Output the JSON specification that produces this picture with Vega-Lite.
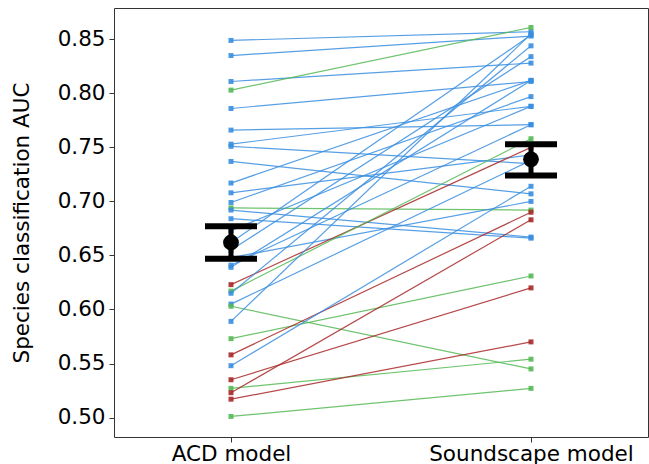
{
  "$schema": "https://vega.github.io/schema/vega-lite/v6.json",
  "width": 534,
  "height": 429,
  "autosize": {"type": "none"},
  "padding": {"left": 114, "top": 8, "right": 1, "bottom": 27},
  "background": "white",
  "config": {
    "view": {"stroke": "#333333", "strokeWidth": 1},
    "axis": {"grid": false, "labelFont": "DejaVu Sans", "titleFont": "DejaVu Sans", "labelFontSize": 21.5, "titleFontSize": 21.5, "labelColor": "#000000", "titleColor": "#000000", "tickColor": "#333333", "domainColor": "#333333", "titleFontWeight": "normal", "labelLimit": 400}
  },
  "datasets": {
    "pairs": [
      {"id": 1, "ACD model": 0.849, "Soundscape model": 0.857, "g": "b"},
      {"id": 2, "ACD model": 0.835, "Soundscape model": 0.853, "g": "b"},
      {"id": 3, "ACD model": 0.811, "Soundscape model": 0.828, "g": "b"},
      {"id": 4, "ACD model": 0.803, "Soundscape model": 0.861, "g": "g"},
      {"id": 5, "ACD model": 0.786, "Soundscape model": 0.811, "g": "b"},
      {"id": 6, "ACD model": 0.766, "Soundscape model": 0.771, "g": "b"},
      {"id": 7, "ACD model": 0.753, "Soundscape model": 0.788, "g": "b"},
      {"id": 8, "ACD model": 0.751, "Soundscape model": 0.735, "g": "b"},
      {"id": 9, "ACD model": 0.737, "Soundscape model": 0.707, "g": "b"},
      {"id": 10, "ACD model": 0.717, "Soundscape model": 0.812, "g": "b"},
      {"id": 11, "ACD model": 0.708, "Soundscape model": 0.743, "g": "b"},
      {"id": 12, "ACD model": 0.699, "Soundscape model": 0.797, "g": "b"},
      {"id": 13, "ACD model": 0.694, "Soundscape model": 0.692, "g": "g"},
      {"id": 14, "ACD model": 0.692, "Soundscape model": 0.667, "g": "b"},
      {"id": 15, "ACD model": 0.684, "Soundscape model": 0.666, "g": "b"},
      {"id": 16, "ACD model": 0.673, "Soundscape model": 0.788, "g": "b"},
      {"id": 17, "ACD model": 0.662, "Soundscape model": 0.854, "g": "b"},
      {"id": 18, "ACD model": 0.655, "Soundscape model": 0.834, "g": "b"},
      {"id": 19, "ACD model": 0.648, "Soundscape model": 0.700, "g": "b"},
      {"id": 20, "ACD model": 0.641, "Soundscape model": 0.771, "g": "b"},
      {"id": 21, "ACD model": 0.639, "Soundscape model": 0.812, "g": "b"},
      {"id": 22, "ACD model": 0.623, "Soundscape model": 0.750, "g": "r"},
      {"id": 23, "ACD model": 0.617, "Soundscape model": 0.758, "g": "g"},
      {"id": 24, "ACD model": 0.615, "Soundscape model": 0.844, "g": "b"},
      {"id": 25, "ACD model": 0.605, "Soundscape model": 0.738, "g": "b"},
      {"id": 26, "ACD model": 0.603, "Soundscape model": 0.545, "g": "g"},
      {"id": 27, "ACD model": 0.589, "Soundscape model": 0.855, "g": "b"},
      {"id": 28, "ACD model": 0.573, "Soundscape model": 0.631, "g": "g"},
      {"id": 29, "ACD model": 0.558, "Soundscape model": 0.690, "g": "r"},
      {"id": 30, "ACD model": 0.548, "Soundscape model": 0.714, "g": "b"},
      {"id": 31, "ACD model": 0.535, "Soundscape model": 0.620, "g": "r"},
      {"id": 32, "ACD model": 0.527, "Soundscape model": 0.554, "g": "g"},
      {"id": 33, "ACD model": 0.523, "Soundscape model": 0.683, "g": "r"},
      {"id": 34, "ACD model": 0.517, "Soundscape model": 0.570, "g": "r"},
      {"id": 35, "ACD model": 0.501, "Soundscape model": 0.527, "g": "g"}
    ],
    "means": [
      {"model": "ACD model", "mean": 0.662, "lo": 0.647, "hi": 0.677},
      {"model": "Soundscape model", "mean": 0.739, "lo": 0.724, "hi": 0.753}
    ]
  },
  "encoding": {
    "x": {
      "field": "model", "type": "nominal",
      "scale": {"type": "point", "domain": ["ACD model", "Soundscape model"], "padding": 0.39},
      "axis": {"title": null, "labelAngle": 0, "labelPadding": 1, "tickSize": 5, "domain": false}
    },
    "y": {
      "type": "quantitative",
      "scale": {"domain": [0.482, 0.879], "nice": false, "zero": false},
      "axis": {"title": "Species classification AUC", "values": [0.5, 0.55, 0.6, 0.65, 0.7, 0.75, 0.8, 0.85], "format": ".2f", "tickSize": 5, "labelPadding": 4, "titlePadding": 24, "domain": false}
    }
  },
  "layer": [
    {
      "data": {"name": "pairs"},
      "transform": [{"fold": ["ACD model", "Soundscape model"], "as": ["model", "auc"]}],
      "layer": [
        {
          "mark": {"type": "line", "strokeWidth": 1.2, "opacity": 0.85},
          "encoding": {
            "y": {"field": "auc", "type": "quantitative"},
            "detail": {"field": "id", "type": "nominal"},
            "color": {"field": "g", "type": "nominal", "scale": {"domain": ["b", "g", "r"], "range": ["#3a8ee0", "#55b955", "#a82828"]}, "legend": null}
          }
        },
        {
          "mark": {"type": "point", "shape": "square", "filled": true, "size": 25, "opacity": 0.9},
          "encoding": {
            "y": {"field": "auc", "type": "quantitative"},
            "color": {"field": "g", "type": "nominal", "scale": {"domain": ["b", "g", "r"], "range": ["#3a8ee0", "#55b955", "#a82828"]}, "legend": null}
          }
        }
      ]
    },
    {
      "data": {"name": "means"},
      "layer": [
        {
          "mark": {"type": "rule", "strokeWidth": 5, "color": "#000000"},
          "encoding": {"y": {"field": "lo", "type": "quantitative"}, "y2": {"field": "hi"}}
        },
        {
          "mark": {"type": "tick", "size": 52, "thickness": 6, "color": "#000000", "opacity": 1},
          "encoding": {"y": {"field": "lo", "type": "quantitative"}}
        },
        {
          "mark": {"type": "tick", "size": 52, "thickness": 6, "color": "#000000", "opacity": 1},
          "encoding": {"y": {"field": "hi", "type": "quantitative"}}
        },
        {
          "mark": {"type": "point", "shape": "circle", "filled": true, "size": 250, "color": "#000000", "opacity": 1},
          "encoding": {"y": {"field": "mean", "type": "quantitative"}}
        }
      ]
    }
  ]
}
